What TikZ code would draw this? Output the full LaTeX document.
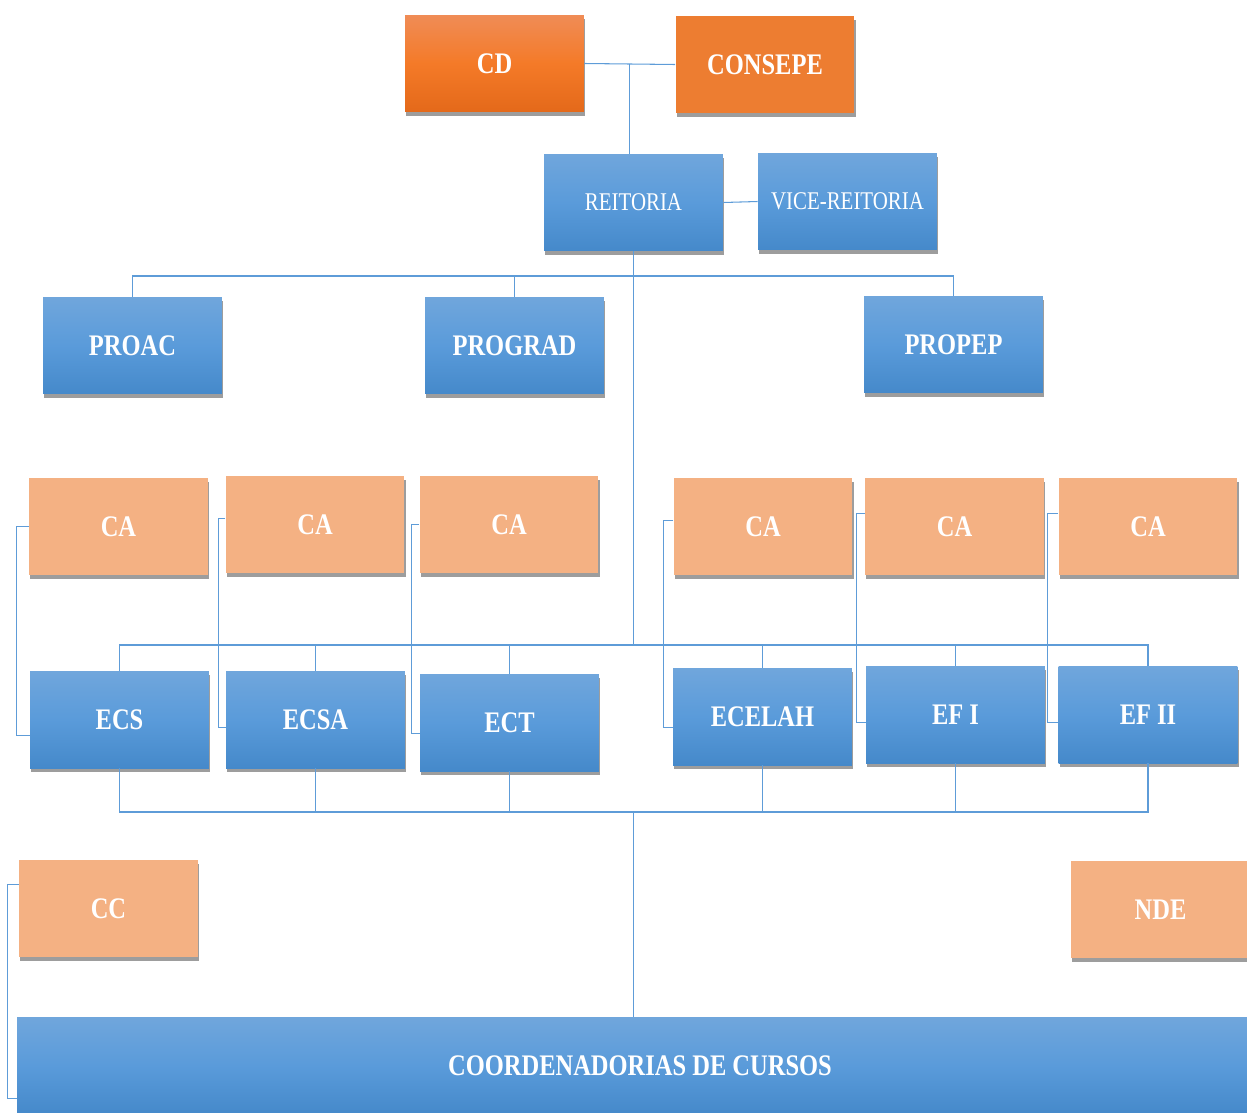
\documentclass[tikz,border=0pt]{standalone}
\usepackage{fontspec}
\setmainfont{Liberation Serif}[FakeStretch=0.82]
\usepackage{tikz}
\usetikzlibrary{positioning,shadows}

\definecolor{blueTop}{HTML}{70A6DC}
\definecolor{blueMid}{HTML}{5A9BDA}
\definecolor{blueBot}{HTML}{4589CA}
\definecolor{orangeTop}{HTML}{F08C56}
\definecolor{orangeMid}{HTML}{F47A28}
\definecolor{orangeBot}{HTML}{E4691A}
\definecolor{orangeFlat}{HTML}{ED7D31}
\definecolor{peach}{HTML}{F4B183}
\definecolor{lineblue}{HTML}{5E9CD8}

\begin{document}
\begin{tikzpicture}[x=0.02cm,y=-0.02cm,
            box/.style={rectangle,minimum width=3.58cm,minimum height=1.94cm,inner sep=0pt,align=center,
              text=white,font=\fontsize{17}{20}\selectfont\bfseries,
              drop shadow={shadow xshift=.8pt,shadow yshift=-2.2pt,opacity=.55,fill=black!70}},
            unit/.style={box,top color=blueTop,bottom color=blueBot,middle color=blueMid},
            reit/.style={unit,font=\fontsize{14.5}{17}\selectfont},
            council/.style={box,top color=orangeTop,bottom color=orangeBot,middle color=orangeMid},
            councilflat/.style={box,fill=orangeFlat},
            cabox/.style={box,fill=peach},
            conn/.style={draw=lineblue,line width=.6pt}
          ]
          \useasboundingbox (0,0) rectangle (1247,1112);
          \clip (0,0) rectangle (1247,1112);

          %councils
          \node[council] (cd) at (494.5,63.5) {CD};
          \node[councilflat] (consepe) at (765,64.5) {CONSEPE};

          %reitoria
          \node[reit] (reitoria) at (633.5,202.5) {REITORIA};
          \node[reit] (vice) at (847.5,201.5) {VICE-REITORIA};

          %pro-reitorias
          \node[unit] (proac) at (132.5,345.5) {PROAC};
          \node[unit] (prograd) at (514.5,345.5) {PROGRAD};
          \node[unit] (propep) at (953.5,344.5) {PROPEP};

          %ca
          \node[cabox] (ca1) at (118.5,526.5) {CA};
          \node[cabox] (ca2) at (315,524.5) {CA};
          \node[cabox] (ca3) at (509,524.5) {CA};
          \node[cabox] (ca4) at (763,526.5) {CA};
          \node[cabox] (ca5) at (954.5,526.5) {CA};
          \node[cabox] (ca6) at (1148,526.5) {CA};

          %schools
          \node[unit] (ecs) at (119.5,719.5) {ECS};
          \node[unit] (ecsa) at (315.5,719.5) {ECSA};
          \node[unit] (ect) at (509.5,722.5) {ECT};
          \node[unit] (ecelah) at (762.5,716.5) {ECELAH};
          \node[unit] (ef1) at (955.5,714.5) {EF I};
          \node[unit] (ef2) at (1148,714.5) {EF II};

          %bottom
          \node[cabox] (cc) at (108.5,908.5) {CC};
          \node[cabox] (nde) at (1160.5,909.5) {NDE};
          \node[unit,minimum width=24.92cm] (coord) at (640,1065.5) {COORDENADORIAS DE CURSOS};

          %buses
          \coordinate (pbus) at (0,276);
          \coordinate (sbus) at (0,645);
          \coordinate (bbus) at (0,812);

          %lines
          \draw[conn] (cd.east) -- coordinate[pos=.5] (cdj) (consepe.west);
          \draw[conn] (cdj) -- (cdj |- reitoria.north);
          \draw[conn] (reitoria.east) -- (vice.west);
          \draw[conn] (reitoria.south) -- (reitoria.south |- sbus);
          \draw[conn] (proac.north) -- (proac.north |- pbus) -- (propep.north |- pbus) -- (propep.north);
          \draw[conn] (prograd.north) -- (prograd.north |- pbus);
          \draw[conn] (ecs.north) -- (ecs.north |- sbus) -- (ef2.north |- sbus) -- (ef2.north);
          \draw[conn] (ecs.south) -- (ecs.south |- bbus) -- (ef2.south |- bbus) -- (ef2.south);
          \foreach \s in {ecsa,ect,ecelah,ef1}{
            \draw[conn] (\s.north) -- (\s.north |- sbus);
            \draw[conn] (\s.south) -- (\s.south |- bbus);
          }
          \draw[conn] (reitoria.south |- bbus) -- (reitoria.south |- coord.north);

          %brackets
          \foreach \c/\ca/\s/\sa/\d in {ca1/180/ecs/190/12,ca2/176/ecsa/185/7,ca3/180/ect/187/8,
              ca4/176/ecelah/187/10,ca5/172/ef1/185/8,ca6/172/ef2/185/11,cc/165/coord/183/11}
            \draw[conn] (\c.\ca) -- ++(-\d,0) |- (\s.\sa);
      \end{tikzpicture}
\end{document}
